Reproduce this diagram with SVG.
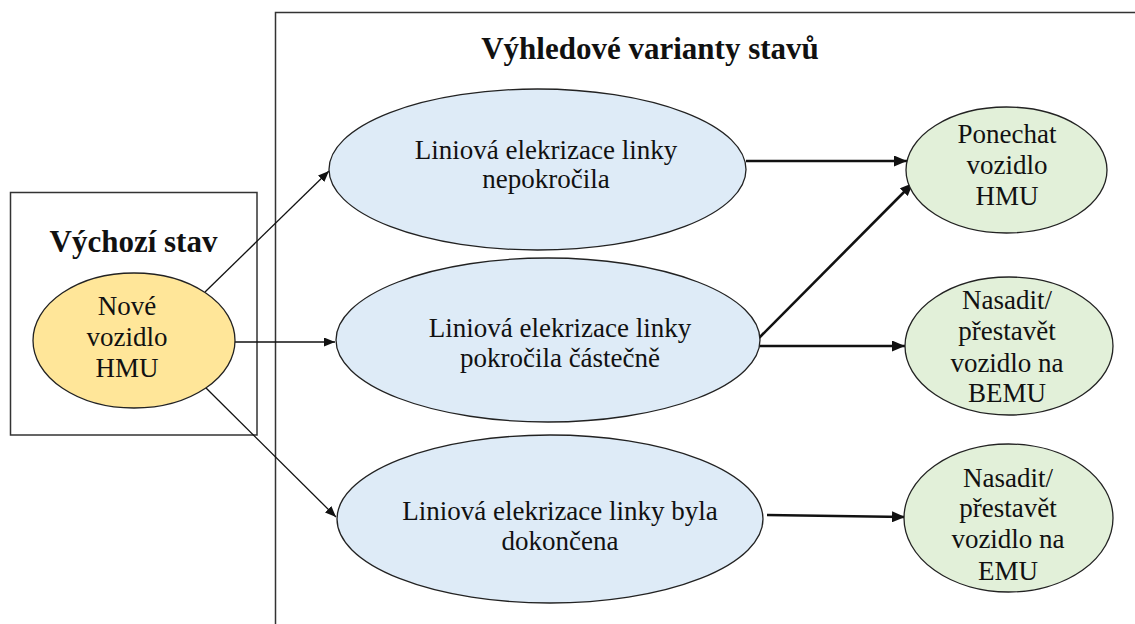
<svg xmlns="http://www.w3.org/2000/svg" width="1135" height="624" viewBox="0 0 1135 624">
<style>
.frame{fill:none;stroke:#333;stroke-width:1.5}
.node{stroke:#222;stroke-width:1.3}
.y{fill:#FFE699}.b{fill:#DEEBF7}.g{fill:#E2F0D9}
.t{font-family:"Liberation Serif","Times New Roman",serif;font-size:27px;fill:#111;text-anchor:middle}
.h{font-family:"Liberation Serif","Times New Roman",serif;font-size:31px;font-weight:bold;fill:#111;text-anchor:middle}
.thin{stroke:#111;stroke-width:1.3;fill:none}
.thick{stroke:#111;stroke-width:2.6;fill:none}
</style>
<defs>
<marker id="as" markerUnits="userSpaceOnUse" markerWidth="11" markerHeight="9" refX="11" refY="4.5" orient="auto"><path d="M0,0 L11,4.5 L0,9 z" fill="#111"/></marker>
<marker id="al" markerUnits="userSpaceOnUse" markerWidth="13" markerHeight="11" refX="13" refY="5.5" orient="auto"><path d="M0,0 L13,5.5 L0,11 z" fill="#111"/></marker>
</defs>
<rect width="1135" height="624" fill="#fff"/>
<g id="frame-right"><path class="frame" d="M275.5,640 V12.5 H1140"/><text class="h" x="650" y="59">Výhledové varianty stavů</text></g>
<g id="frame-left"><rect class="frame" x="10.5" y="192.5" width="246.5" height="242.5"/><text class="h" x="133.5" y="252">Výchozí stav</text></g>
<g id="connectors">
<line class="thin" x1="205" y1="292" x2="329" y2="171" marker-end="url(#as)"/>
<line class="thin" x1="235" y1="342" x2="335" y2="342" marker-end="url(#as)"/>
<line class="thin" x1="205" y1="387" x2="336" y2="517" marker-end="url(#as)"/>
<line class="thick" x1="746" y1="161" x2="907" y2="161" marker-end="url(#al)"/>
<line class="thick" x1="759" y1="338" x2="913" y2="183" marker-end="url(#al)"/>
<line class="thick" x1="759" y1="346" x2="905" y2="346" marker-end="url(#al)"/>
<line class="thick" x1="767" y1="515" x2="905" y2="517" marker-end="url(#al)"/>
</g>
<g id="n-start"><ellipse class="node y" cx="134" cy="340.5" rx="101" ry="67.5"/><text class="t"><tspan x="127" y="315">Nové</tspan><tspan x="127" y="346">vozidlo</tspan><tspan x="127" y="377">HMU</tspan></text></g>
<g id="n-b1"><ellipse class="node b" cx="537.5" cy="169.5" rx="208.5" ry="80.5"/><text class="t"><tspan x="546" y="159">Liniová elekrizace linky</tspan><tspan x="546" y="188">nepokročila</tspan></text></g>
<g id="n-b2"><ellipse class="node b" cx="548" cy="340" rx="212" ry="82"/><text class="t"><tspan x="560" y="337">Liniová elekrizace linky</tspan><tspan x="560" y="367">pokročila částečně</tspan></text></g>
<g id="n-b3"><ellipse class="node b" cx="550" cy="519" rx="213" ry="84"/><text class="t"><tspan x="560" y="520">Liniová elekrizace linky byla</tspan><tspan x="560" y="550">dokončena</tspan></text></g>
<g id="n-g1"><ellipse class="node g" cx="1006.5" cy="170" rx="100.5" ry="63"/><text class="t"><tspan x="1007" y="143">Ponechat</tspan><tspan x="1007" y="174">vozidlo</tspan><tspan x="1007" y="205">HMU</tspan></text></g>
<g id="n-g2"><ellipse class="node g" cx="1009" cy="346" rx="104" ry="69"/><text class="t"><tspan x="1007" y="309">Nasadit/</tspan><tspan x="1007" y="340">přestavět</tspan><tspan x="1007" y="372">vozidlo na</tspan><tspan x="1007" y="402">BEMU</tspan></text></g>
<g id="n-g3"><ellipse class="node g" cx="1008.5" cy="518" rx="104.5" ry="74"/><text class="t"><tspan x="1008" y="487">Nasadit/</tspan><tspan x="1008" y="517">přestavět</tspan><tspan x="1008" y="548">vozidlo na</tspan><tspan x="1008" y="580">EMU</tspan></text></g>
</svg>
